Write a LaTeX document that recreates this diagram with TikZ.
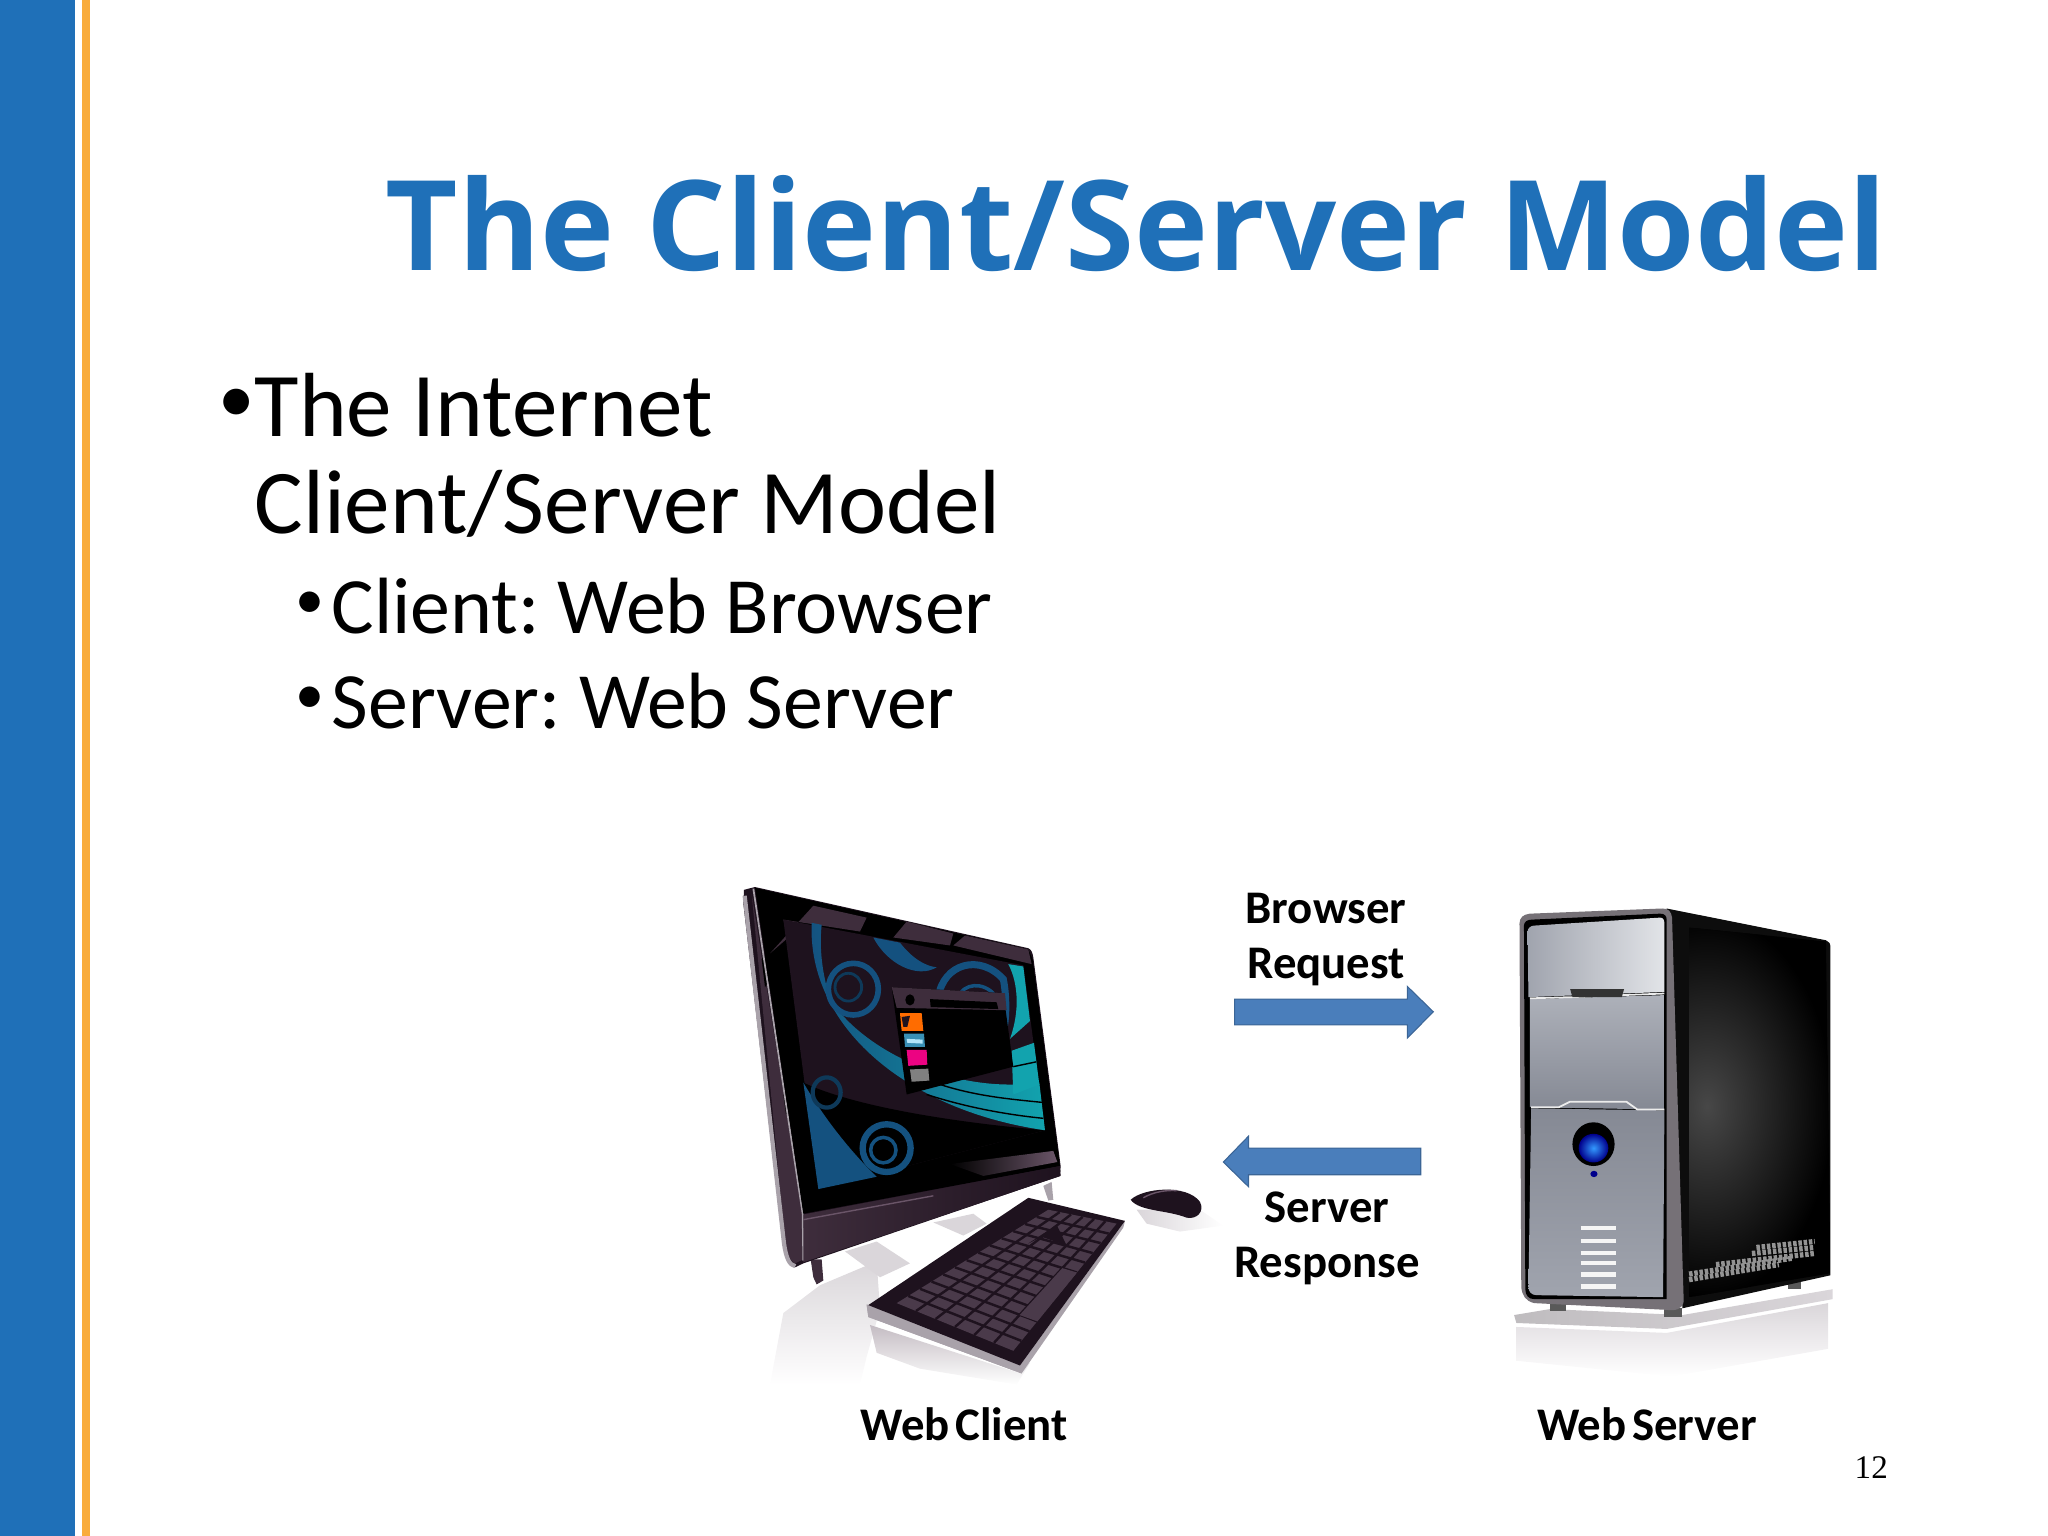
\documentclass[tikz,border=0pt]{standalone}
\usepackage{fontspec}
\usepackage{tikz}
\setmainfont{Carlito}
\newfontfamily\headfont{Open Sans}
\newfontfamily\numfont{Liberation Serif}
\newcommand{\tightwords}{\spaceskip=0.12em\relax}
\definecolor{slideblue}{HTML}{1F70B8}
\definecolor{slideorange}{HTML}{F9AC3C}
\definecolor{arrowblue}{HTML}{4A7EBB}
\definecolor{plumdark}{HTML}{1E121E}
\definecolor{plumbody}{HTML}{3E2D3C}
\definecolor{plumlight}{HTML}{6A5568}
\definecolor{keyplum}{HTML}{4A3A4A}
\definecolor{rimsilver}{HTML}{A9A2AA}
\definecolor{swirlblue}{HTML}{14517F}
\definecolor{swirlteal}{HTML}{12A3AE}
\definecolor{floorgray}{HTML}{DAD6DA}
\definecolor{paneltop}{HTML}{E2E4E8}
\definecolor{panelmid}{HTML}{A0A4AE}
\definecolor{panellow}{HTML}{858994}
\begin{document}
\begin{tikzpicture}[x=0.01cm,y=0.01cm]
\tikzstyle{every node}+=[inner sep=0pt]
\tikzstyle{titletext}=[anchor=base west,font=\headfont\bfseries\fontsize{35.6}{40}\selectfont,text=slideblue]
\tikzstyle{bigtext}=[anchor=base west,font=\frenchspacing\fontsize{25.9}{30}\selectfont]
\tikzstyle{subtext}=[anchor=base west,font=\frenchspacing\fontsize{22.7}{27}\selectfont]
\tikzstyle{bigdot}=[anchor=base west,font=\fontsize{20.7}{24}\selectfont]
\tikzstyle{subdot}=[anchor=base west,font=\fontsize{16.5}{20}\selectfont]
\tikzstyle{figtext}=[anchor=base,font=\bfseries\fontsize{13.3}{16}\selectfont\tightwords]
\tikzstyle{blockarrow}=[fill=arrowblue,draw=arrowblue!80!black,line width=0.3pt]
\tikzstyle{keygap}=[plumdark,line width=0.7pt]
\tikzstyle{ventline}=[white!92!gray,line width=1.2pt]
\tikzstyle{speckle}=[gray!85,line width=1.5pt,dash pattern=on 1pt off 0.5pt]
\tikzstyle{monitorframe}=[shift={(720,-860)},xscale=0.3333,yscale=0.3974]
\tikzstyle{towerframe}=[shift={(1200,-860)},xscale=0.4487,yscale=0.3974]
\useasboundingbox (0,0) rectangle (2048,-1536);
% side bars
\fill [slideblue] (0,0) rectangle (75,-1536);
\fill [slideorange] (82,0) rectangle (90,-1536);
% slide text
\node [titletext] (title) at (385,-270) {The Client/Server Model};
\node [bigdot] (dotone) at (218,-422) {•};
\node [bigtext] (lineone) at (254,-436) {The Internet};
\node [bigtext] (linetwo) at (254,-533) {Client/Server Model};
\node [subdot] (dottwo) at (295,-618) {•};
\node [subtext] (linethree) at (331,-633) {Client: Web Browser};
\node [subdot] (dotthree) at (295,-713) {•};
\node [subtext] (linefour) at (331,-728) {Server: Web Server};
% figure labels
\node [figtext] (browser) at (1326,-923) {Browser};
\node [figtext] (request) at (1326,-978) {Request};
\node [figtext] (server) at (1327,-1222) {Server};
\node [figtext] (response) at (1327,-1277) {Response};
\node [figtext] (webclient) at (964,-1440) {Web Client};
\node [figtext] (webserver) at (1647,-1440) {Web Server};
\node [anchor=base west,font=\numfont\fontsize{9.4}{11}\selectfont] (pagenum) at (1854,-1478) {12};
% monitor, keyboard, mouse
\begin{scope}[monitorframe]
\shade [top color=floorgray,bottom color=white] (150,-1320) -- (190,-1140) -- (300,-1070) -- (470,-1010) -- (480,-1130) -- (440,-1250) -- (420,-1320) -- cycle;
\fill [floorgray] (375,-985) -- (470,-960) -- (570,-1015) -- (480,-1050) -- cycle;
\fill [floorgray] (640,-912) -- (760,-890) -- (800,-915) -- (730,-945) -- cycle;
\shade [top color=floorgray!80!plumlight,bottom color=white] (450,-1170) -- (895,-1290) -- (930,-1265) -- (890,-1320) -- (600,-1280) -- (470,-1240) -- cycle;
\shade [left color=floorgray,right color=white] (1250,-880) -- (1440,-880) -- (1510,-920) -- (1380,-935) -- (1280,-915) -- cycle;
% feet
\fill [plumbody] (272,-1005) -- (305,-1005) -- (310,-1058) -- (290,-1068) -- (280,-1050) -- cycle;
\fill [rimsilver] (970,-820) -- (995,-810) -- (1000,-855) -- (985,-857) -- cycle;
% cabinet
\fill [plumdark] (72,-75) -- (105,-68) -- (925,-222) .. controls (935,-225) and (938,-235) .. (940,-245) -- (1022,-770) -- (1020,-795) -- (250,-1015) -- (225,-1025) .. controls (205,-1025) and (192,-990) .. (188,-960) -- (70,-110) -- cycle;
\fill [plumbody] (95,-85) -- (248,-890) -- (250,-1005) -- (225,-1015) .. controls (210,-1010) and (200,-985) .. (195,-955) -- cycle;
\fill [black] (125,-250) -- (140,-235) -- (150,-300) -- (135,-320) -- cycle;
\fill [black] (165,-420) -- (215,-365) -- (225,-430) -- (175,-480) -- cycle;
\fill [black] (190,-590) -- (225,-560) -- (232,-610) -- (198,-640) -- cycle;
\draw [rimsilver,line width=1.2pt] (74,-90) -- (192,-965) .. controls (198,-1000) and (208,-1020) .. (226,-1022);
\draw [rimsilver,line width=0.5pt] (100,-72) -- (248,-890) -- (250,-1008);
% bezel
\fill [black] (105,-70) -- (925,-225) -- (938,-250) -- (1020,-770) -- (250,-890) -- cycle;
\fill [plumbody] (150,-235) -- (280,-115) -- (440,-145) -- (420,-180) -- (190,-150) -- (205,-195) -- cycle;
\fill [plumbody] (520,-195) -- (560,-155) -- (700,-185) -- (690,-215) -- cycle;
\fill [plumbody] (700,-215) -- (735,-190) -- (925,-225) -- (935,-262) -- cycle;
\shade [left color=black,right color=plumlight] (690,-765) -- (1000,-732) -- (1012,-760) -- (790,-795) -- cycle;
% screen
\fill [plumdark] (190,-150) -- (910,-265) -- (975,-680) -- (295,-828) -- cycle;
\fill [black] (250,-560) .. controls (400,-620) and (700,-660) .. (975,-680) -- (295,-828) -- cycle;
\fill [swirlblue] (250,-560) .. controls (320,-660) and (400,-740) .. (470,-797) -- (295,-828) -- cycle;
\shade [left color=swirlblue,middle color=swirlblue!85!swirlteal,right color=swirlteal] (275,-158) .. controls (262,-420) and (560,-630) .. (975,-680) -- (958,-560) .. controls (700,-590) and (430,-480) .. (330,-350) .. controls (305,-280) and (298,-220) .. (305,-163) -- cycle;
\fill [swirlteal] (875,-480) -- (942,-460) -- (958,-565) -- (880,-590) -- cycle;
\fill [swirlteal] (865,-262) -- (910,-268) -- (930,-405) -- (870,-450) .. controls (900,-380) and (895,-310) .. (865,-262);
\fill [swirlblue] (460,-195) .. controls (500,-260) and (590,-300) .. (650,-270) .. controls (600,-265) and (560,-230) .. (540,-208) -- cycle;
\draw [black,line width=0.4pt] (560,-530) .. controls (700,-590) and (850,-600) .. (968,-610);
\draw [black,line width=0.4pt] (620,-590) .. controls (730,-620) and (850,-640) .. (970,-650);
\draw [black,line width=0.4pt] (880,-520) -- (948,-508);
\draw [swirlblue,line width=1.6pt] (400,-325) ellipse (75 and 65);
\draw [swirlblue!70!black,line width=0.8pt] (385,-320) ellipse (40 and 35);
\draw [swirlblue!70!black,line width=1.2pt] (320,-585) ellipse (42 and 38);
\draw [swirlblue,line width=1.8pt] (500,-725) ellipse (72 and 60);
\draw [swirlblue,line width=1pt] (490,-730) ellipse (38 and 32);
\draw [swirlblue,line width=2pt] (655,-345) .. controls (670,-260) and (780,-235) .. (850,-300) .. controls (860,-340) and (860,-400) .. (850,-430);
\draw [swirlblue,line width=1pt] (715,-345) .. controls (730,-310) and (790,-305) .. (825,-340);
% program window
\fill [black] (515,-320) -- (850,-335) -- (880,-520) -- (560,-590) -- cycle;
\fill [plumbody] (515,-320) -- (855,-335) -- (860,-378) -- (530,-372) -- cycle;
\fill [black] (570,-352) circle (14);
\fill [black] (630,-350) -- (830,-358) -- (835,-375) -- (632,-370) -- cycle;
\fill [orange!85!red] (540,-385) -- (605,-385) -- (610,-430) -- (545,-430) -- cycle;
\fill [plumdark] (545,-395) -- (570,-392) -- (562,-420) -- (550,-420) -- cycle;
\fill [cyan!70!black] (552,-437) -- (612,-437) -- (615,-470) -- (555,-470) -- cycle;
\fill [white!70!cyan] (560,-450) -- (608,-452) -- (608,-462) -- (562,-460) -- cycle;
\fill [magenta!90!red] (560,-478) -- (620,-478) -- (622,-515) -- (565,-518) -- cycle;
\fill [gray] (570,-527) -- (625,-525) -- (628,-555) -- (575,-558) -- cycle;
% base of the cabinet
\shade [left color=plumbody,right color=plumdark] (250,-892) -- (1020,-770) -- (1022,-795) -- (250,-1012) -- cycle;
\draw [plumlight,line width=0.4pt] (250,-905) -- (640,-845);
% keyboard
\fill [rimsilver] (440,-1120) -- (900,-1272) -- (1215,-908) -- (1210,-925) -- (905,-1292) -- (445,-1150) -- cycle;
\fill [rimsilver] (440,-1118) -- (900,-1268) -- (905,-1292) -- (445,-1150) -- cycle;
\fill [plumdark] (445,-1120) -- (925,-850) -- (1215,-908) -- (900,-1272) -- cycle;
\fill [keyplum] (530,-1115) -- (985,-880) -- (1190,-915) -- (880,-1235) -- cycle;
\draw [keygap] (588,-1135) -- (1019,-886);
\draw [keygap] (647,-1155) -- (1053,-892);
\draw [keygap] (705,-1175) -- (1088,-898);
\draw [keygap] (763,-1195) -- (1122,-903);
\draw [keygap] (822,-1215) -- (1156,-909);
\draw [keygap] (565,-1097) -- (904,-1210);
\draw [keygap] (600,-1079) -- (928,-1186);
\draw [keygap] (635,-1061) -- (952,-1161);
\draw [keygap] (670,-1043) -- (975,-1137);
\draw [keygap] (705,-1025) -- (999,-1112);
\draw [keygap] (740,-1007) -- (1023,-1087);
\draw [keygap] (775,-988) -- (1047,-1063);
\draw [keygap] (810,-970) -- (1071,-1038);
\draw [keygap] (845,-952) -- (1095,-1013);
\draw [keygap] (880,-934) -- (1118,-989);
\draw [keygap] (915,-916) -- (1142,-964);
\draw [keygap] (950,-898) -- (1166,-940);
\fill [keyplum] (899,-1145) -- (952,-1161) -- (1071,-1038) -- (1027,-1027) -- cycle;
\fill [plumdark] (925,-965) -- (1010,-918) -- (1040,-970) -- (965,-948) -- cycle;
% mouse
\fill [plumdark] (1232,-855) .. controls (1270,-825) and (1400,-815) .. (1440,-860) .. controls (1455,-885) and (1430,-905) .. (1400,-900) .. controls (1340,-880) and (1260,-885) .. (1232,-855);
\draw [plumlight,line width=0.4pt] (1270,-850) .. controls (1300,-835) and (1340,-830) .. (1370,-832);
\end{scope}
% arrows and tower
\begin{scope}[towerframe]
\fill [blockarrow] (77,-350) -- (462,-350) -- (462,-318) -- (520,-382) -- (462,-448) -- (462,-415) -- (77,-415) -- cycle;
\fill [blockarrow] (492,-725) -- (108,-725) -- (108,-695) -- (52,-760) -- (108,-822) -- (108,-792) -- (492,-792) -- cycle;
% floor
\shade [top color=floorgray,bottom color=white] (705,-1175) -- (1040,-1190) -- (1400,-1115) -- (1400,-1230) -- (1050,-1300) -- (705,-1260) -- cycle;
\shade [left color=floorgray!70!gray,right color=floorgray] (700,-1145) -- (780,-1130) -- (1075,-1145) -- (1410,-1080) -- (1410,-1105) -- (1040,-1180) -- (705,-1165) -- cycle;
% feet
\fill [gray!70!black] (780,-1115) -- (815,-1115) -- (815,-1135) -- (780,-1135) -- cycle;
\fill [gray!70!black] (1035,-1128) -- (1075,-1128) -- (1075,-1150) -- (1035,-1150) -- cycle;
\fill [gray!70!black] (1310,-1062) -- (1340,-1062) -- (1340,-1080) -- (1310,-1080) -- cycle;
% side
\fill [black!90!gray] (1040,-122) -- (1395,-202) .. controls (1402,-205) and (1405,-210) .. (1405,-220) -- (1405,-1045) -- (1075,-1128) -- cycle;
\begin{scope}
\clip (1090,-170) -- (1395,-205) -- (1405,-1040) -- (1090,-1100) -- cycle;
\fill [black] (1090,-170) rectangle (1405,-1100);
\shade [inner color=black!72!white,outer color=black] (1130,-620) ellipse (280 and 480);
\end{scope}
\draw [speckle] (1090,-1056) -- (1290,-1018);
\draw [speckle] (1090,-1042) -- (1320,-1002);
\draw [speckle] (1150,-1018) -- (1370,-990);
\draw [speckle] (1230,-990) -- (1370,-975);
\draw [speckle] (1240,-975) -- (1370,-960);
% front
\fill [rimsilver!70!black] (735,-135) -- (1030,-122) .. controls (1045,-122) and (1050,-130) .. (1052,-145) -- (1078,-1110) .. controls (1076,-1130) and (1060,-1135) .. (1040,-1132) -- (745,-1115) .. controls (725,-1110) and (718,-1095) .. (716,-1075) -- (712,-160) .. controls (712,-145) and (720,-137) .. (735,-135);
\fill [black] (740,-150) -- (1025,-135) .. controls (1035,-135) and (1040,-140) .. (1040,-150) -- (1040,-1105) -- (745,-1105) .. controls (732,-1105) and (725,-1095) .. (725,-1080) -- (722,-165) .. controls (722,-155) and (730,-150) .. (740,-150);
\shade [left color=panelmid,right color=paneltop] (745,-165) -- (1025,-145) .. controls (1032,-145) and (1035,-150) .. (1035,-160) -- (1035,-332) -- (732,-345) -- (730,-180) .. controls (730,-172) and (737,-165) .. (745,-165);
\shade [top color=panelmid!80!paneltop,bottom color=panellow] (735,-350) -- (1035,-340) -- (1035,-628) -- (735,-622) -- cycle;
\shade [top color=panellow,bottom color=panelmid] (738,-625) -- (1035,-630) -- (1032,-1100) -- (750,-1095) .. controls (738,-1095) and (732,-1085) .. (732,-1075) -- cycle;
\draw [white!85!gray,line width=0.5pt] (735,-348) -- (830,-345) -- (940,-340) -- (1035,-336);
\fill [black!80] (825,-325) -- (945,-325) -- (940,-345) -- (830,-345) -- cycle;
\draw [white!85!gray,line width=0.5pt] (738,-622) -- (800,-622) -- (825,-608) -- (950,-608) -- (975,-628) -- (1035,-628);
% power button
\fill [black] (877,-715) ellipse (47 and 55);
\shade [inner color=cyan!50!blue!80!white,outer color=blue!55!black] (877,-725) ellipse (33 and 36);
\fill [blue!55!black] (878,-790) circle (8);
% vent
\draw [ventline] (848,-925) -- (928,-925);
\draw [ventline] (848,-958) -- (928,-958);
\draw [ventline] (848,-988) -- (928,-988);
\draw [ventline] (848,-1015) -- (928,-1015);
\draw [ventline] (848,-1043) -- (928,-1043);
\draw [ventline] (848,-1073) -- (928,-1073);
\end{scope}
\end{tikzpicture}
\end{document}
